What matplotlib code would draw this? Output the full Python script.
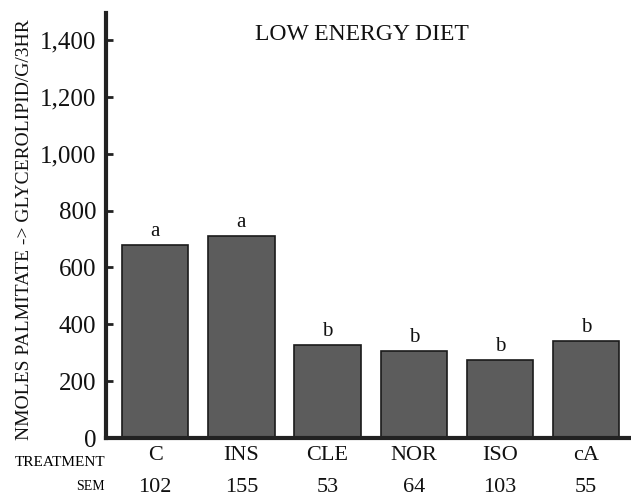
import matplotlib
matplotlib.use('Agg')
import matplotlib.pyplot as plt
import matplotlib.transforms as mtransforms

plt.rcParams.update({
    'font.family': 'serif',
    'font.serif': ['Liberation Serif', 'DejaVu Serif'],
})

# Data
treatments = ['C', 'INS', 'CLE', 'NOR', 'ISO', 'cA']
values = [679, 710, 327, 306, 274, 341]
sem = ['102', '155', '53', '64', '103', '55']
letters = ['a', 'a', 'b', 'b', 'b', 'b']
yticks = [0, 200, 400, 600, 800, 1000, 1200, 1400]
ytick_labels = ['0', '200', '400', '600', '800', '1,000', '1,200', '1,400']

fig = plt.figure(figsize=(6.31, 4.99), dpi=100)
ax = fig.add_axes([0.168, 0.122, 0.832, 0.852])

x = list(range(len(treatments)))
ax.bar(x, values, width=0.77, color='#5c5c5c', edgecolor='#1a1a1a', linewidth=1.2, zorder=2)

# significance letters above the bars
for xi, v, lt in zip(x, values, letters):
    ax.annotate(lt, xy=(xi, v), xytext=(0, 3), textcoords='offset points',
                ha='center', va='bottom', fontsize=15, color='#111111')

ax.set_xlim(-0.57, 5.52)
ax.set_ylim(0, 1495)

for side in ['top', 'right']:
    ax.spines[side].set_visible(False)
for side in ['left', 'bottom']:
    ax.spines[side].set_linewidth(3)
    ax.spines[side].set_color('#222222')
    ax.spines[side].set_zorder(3)

ax.set_yticks(yticks)
ax.set_yticklabels(ytick_labels, fontsize=18)
ax.tick_params(axis='y', direction='in', length=5, width=2, pad=7, colors='#222222')
ax.tick_params(axis='y', labelcolor='#111111')

ax.set_xticks(x)
ax.set_xticklabels(treatments, fontsize=16)
ax.tick_params(axis='x', length=0, pad=6, labelcolor='#111111')

fig.text(25 / 631, 1 - 230 / 499, 'NMOLES PALMITATE -> GLYCEROLIPID/G/3HR',
         rotation=90, ha='center', va='center', fontsize=14, color='#111111')

# SEM row under the treatment labels
trans = mtransforms.blended_transform_factory(ax.transData, fig.transFigure)
for xi, s in zip(x, sem):
    ax.text(xi, 1 - 487 / 499, s, transform=trans, ha='center', va='center',
            fontsize=16, color='#111111')

fig.text(105 / 631, 1 - 462 / 499, 'TREATMENT', ha='right', va='center', fontsize=11)
fig.text(105 / 631, 1 - 487 / 499, 'SEM', ha='right', va='center', fontsize=10)

fig.text(362 / 631, 1 - 34 / 499, 'LOW ENERGY DIET', ha='center', va='center',
         fontsize=17, color='#111111')

fig.savefig('out.png', dpi=100)
